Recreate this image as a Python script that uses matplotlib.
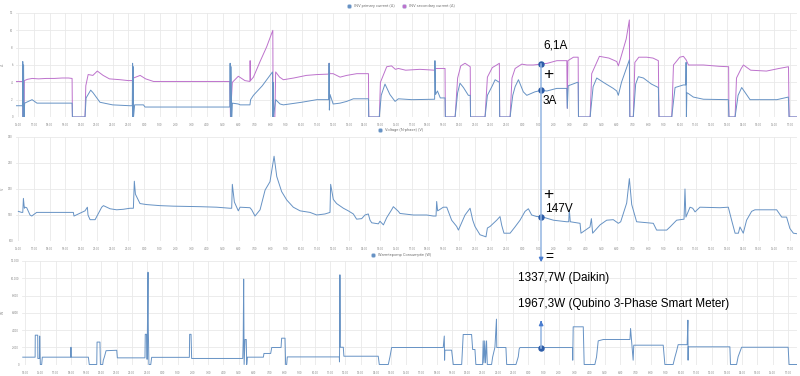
import numpy as np
import matplotlib
matplotlib.use("Agg")
import matplotlib.pyplot as plt
from matplotlib.lines import Line2D
from matplotlib.patches import FancyArrowPatch

plt.rcParams["font.family"] = ["Roboto", "DejaVu Sans"]

# ── Data (time = hours since midnight of day 1) ───────────────────────────
inv1_t = [15.87, 16.28, 16.30, 16.32, 16.35, 16.38, 16.42, 16.89, 17.2, 19.43, 19.45, 20.25, 20.32, 20.61,
          20.76, 21.2, 22.0, 23.1, 23.25, 23.27, 23.29, 23.31, 23.33, 23.4, 23.96, 24.06, 29.44, 29.46,
          29.49, 29.53, 29.56, 29.6, 29.98, 30.1, 30.72, 30.76, 30.94, 31.5, 32.15, 32.17, 32.19, 32.21,
          32.35, 32.63, 32.84, 34.0, 34.96, 35.72, 35.74, 35.76, 35.8, 36.0, 36.44, 36.86, 37.28, 38.24,
          38.26, 38.93, 39.05, 39.29, 39.6, 39.93, 40.14, 41.0, 42.44, 42.46, 42.5, 42.62, 42.8, 43.1,
          43.12, 43.74, 43.9, 44.05, 44.27, 44.58, 44.7, 44.72, 45.64, 45.79, 46.1, 46.28, 46.55, 46.57,
          47.23, 47.4, 47.55, 47.76, 48.07, 48.29, 48.8, 49.2, 49.56, 50.19, 50.83, 50.86, 50.92, 51.5,
          51.55, 51.57, 52.31, 52.5, 52.73, 53.15, 53.78, 54.0, 54.1, 54.3, 54.8, 54.83, 55.05, 55.2,
          55.37, 55.69, 56.2, 56.64, 56.68, 57.49, 57.7, 58.23, 58.38, 58.4, 58.42, 58.45, 58.55, 58.86,
          59.5, 61.08, 61.12, 61.51, 61.7, 61.93, 62.46, 64.16, 64.89, 64.94, 65.44]
inv1_a = [1.3, 1.3, 6.4, 0.0, 6.0, 0.0, 1.6, 2.0, 1.6, 1.6, 0.0, 0.0, 2.2, 3.1,
          2.8, 1.7, 1.4, 1.3, 1.3, 6.2, 0.0, 5.8, 0.0, 1.4, 1.4, 1.15, 1.15, 6.2,
          0.0, 5.8, 0.0, 1.6, 1.5, 1.4, 1.4, 2.0, 2.5, 3.6, 5.2, 0.0, 4.0, 0.0,
          2.0, 1.5, 1.4, 1.7, 2.0, 2.0, 6.2, 0.8, 2.6, 1.5, 1.6, 1.8, 2.1, 2.1,
          0.0, 0.0, 2.5, 3.8, 2.6, 1.8, 2.1, 2.0, 2.05, 6.5, 2.6, 3.0, 2.2, 2.2,
          0.0, 0.0, 2.8, 3.9, 3.4, 2.5, 2.5, 0.0, 0.0, 2.5, 3.6, 4.3, 4.0, 0.0,
          0.0, 2.5, 3.5, 4.3, 2.9, 2.5, 2.9, 3.08, 3.0, 3.3, 3.3, 1.0, 3.6, 4.0,
          4.0, 0.0, 0.0, 3.5, 4.5, 4.0, 3.3, 3.0, 2.5, 4.0, 6.6, 0.0, 0.0, 3.8,
          4.65, 4.5, 3.8, 3.4, 0.0, 0.0, 3.4, 3.7, 3.7, 6.3, 0.0, 2.8, 2.7, 2.3,
          2.05, 2.0, 0.0, 0.0, 2.5, 3.4, 2.0, 2.0, 2.3, 0.0, 0.0]

inv2_t = [15.87, 16.28, 16.30, 16.38, 16.40, 16.6, 16.9, 17.3, 17.8, 18.3, 18.8, 19.2, 19.43, 19.45,
          20.25, 20.30, 20.45, 20.75, 21.03, 21.4, 21.8, 22.5, 23.0, 23.26, 23.28, 23.33, 23.75, 24.1,
          24.6, 26.0, 27.5, 29.44, 29.48, 29.6, 29.98, 30.4, 30.72, 30.73, 30.75, 30.94, 31.36, 31.78,
          32.15, 32.17, 32.19, 32.30, 32.35, 32.6, 32.84, 33.5, 34.3, 35.0, 35.72, 35.75, 35.78, 36.0,
          36.44, 36.86, 37.5, 38.24, 38.26, 38.93, 39.0, 39.4, 39.7, 39.95, 40.14, 40.6, 41.5, 42.45,
          42.47, 43.1, 43.12, 43.74, 43.9, 44.1, 44.37, 44.7, 44.72, 45.64, 45.79, 46.1, 46.38, 46.55,
          46.57, 47.23, 47.35, 47.55, 47.97, 48.3, 48.7, 49.2, 49.6, 50.2, 50.83, 50.86, 50.9, 51.25,
          51.55, 51.57, 52.31, 52.41, 52.9, 53.5, 54.0, 54.1, 54.2, 54.6, 54.8, 54.83, 55.05, 55.15,
          55.4, 55.9, 56.3, 56.64, 56.68, 57.49, 57.6, 58.0, 58.23, 58.4, 58.55, 59.5, 60.5, 61.1,
          61.12, 61.51, 61.6, 61.9, 62.04, 62.5, 63.5, 64.3, 64.9, 64.94, 65.44]
inv2_a = [4.1, 4.1, 0.0, 0.0, 4.2, 4.35, 4.45, 4.4, 4.45, 4.45, 4.5, 4.5, 4.45, 0.0,
          0.0, 3.6, 4.9, 4.8, 5.3, 4.8, 4.4, 4.3, 4.2, 4.2, 0.0, 4.5, 4.8, 4.4,
          4.1, 4.1, 4.1, 4.1, 0.0, 4.0, 4.7, 4.2, 4.1, 6.5, 4.2, 4.6, 6.4, 8.1,
          9.9, 10.0, 0.0, 0.0, 5.2, 4.6, 4.3, 4.5, 4.8, 4.9, 4.95, 6.2, 5.0, 5.0,
          4.6, 4.8, 5.0, 5.0, 0.0, 0.0, 4.0, 5.8, 5.9, 5.5, 5.6, 5.4, 5.5, 5.4,
          5.6, 5.6, 0.0, 0.0, 4.5, 5.9, 6.2, 5.8, 0.0, 0.0, 4.6, 5.7, 6.0, 6.2,
          0.0, 0.0, 4.5, 5.6, 6.1, 6.0, 6.0, 6.1, 6.2, 6.5, 6.5, 1.0, 6.5, 6.9,
          6.9, 0.0, 0.0, 5.0, 7.0, 6.8, 6.4, 5.9, 6.5, 9.0, 11.2, 0.0, 0.0, 6.3,
          6.9, 6.9, 6.8, 6.5, 0.0, 0.0, 6.0, 6.9, 7.0, 6.6, 6.0, 6.0, 5.85, 5.8,
          0.0, 0.0, 4.5, 5.6, 6.0, 5.4, 5.3, 5.6, 5.8, 0.0, 0.0]

volt_t = [16.02, 16.23, 16.30, 16.34, 16.40, 16.44, 16.55, 16.76, 16.87, 17.18, 19.51, 19.55, 20.04,
          20.25, 20.40, 20.44, 20.57, 20.89, 21.31, 21.42, 21.84, 22.26, 22.68, 23.11, 23.32, 23.38,
          23.45, 23.53, 23.74, 24.17, 25.01, 25.86, 27.55, 28.61, 29.45, 29.56, 29.60, 29.67, 29.73,
          29.88, 29.98, 30.09, 30.72, 30.83, 31.04, 31.36, 31.68, 31.99, 32.25, 32.42, 32.73, 33.05,
          33.47, 33.90, 34.53, 34.96, 35.48, 35.80, 35.84, 36.01, 36.22, 36.65, 36.96, 37.28, 37.49,
          37.81, 38.02, 38.23, 38.34, 38.45, 38.87, 38.97, 39.19, 39.40, 39.71, 39.82, 40.14,
          40.24, 41.09, 41.94, 42.36, 42.53, 42.57, 42.63, 42.74, 42.99, 43.21, 43.52, 43.84, 43.95,
          44.05, 44.37, 44.69, 44.86, 45.0, 45.32, 45.70, 45.79, 45.96, 46.38, 46.59, 46.70, 46.84,
          47.23, 47.54, 47.86, 48.18, 48.39, 48.6, 48.92, 49.2, 49.98, 50.82, 50.95, 50.99, 51.05,
          51.67, 51.73, 52.30, 52.39, 52.47, 52.94, 53.36, 53.78, 54.10, 54.25, 54.63, 54.80, 54.95,
          55.26, 56.32, 56.53, 57.17, 57.38, 57.80, 58.27, 58.33, 58.39, 58.65, 58.82, 58.97, 59.28,
          60.55, 61.08, 61.29, 61.51, 61.72, 61.82, 62.03, 62.24, 62.56, 62.77, 64.15, 64.47, 64.78,
          64.99, 65.21, 65.44]
volt_v = [157, 155, 155, 182, 163, 165, 164, 150, 148, 155, 155, 148, 155,
          158, 165, 150, 141, 141, 165, 168, 162, 160, 161, 163, 163, 215,
          190, 185, 172, 170, 168, 167, 166, 165, 163, 163, 209, 190, 175,
          165, 158, 165, 164, 160, 148, 160, 198, 214, 263, 224, 195, 179,
          165, 158, 155, 150, 152, 155, 209, 180, 172, 163, 158, 152, 142,
          143, 150, 152, 140, 135, 133, 138, 131, 145, 160, 166, 157,
          153, 150, 150, 148, 148, 176, 158, 160, 165, 165, 140, 128, 121,
          128, 150, 163, 140, 128, 112, 108, 125, 128, 140, 147, 130, 115,
          115, 127, 140, 157, 162, 150, 147, 147, 140, 137, 137, 160, 137,
          134, 115, 127, 143, 115, 131, 140, 141, 134, 137, 173, 220, 170,
          137, 134, 121, 121, 127, 140, 142, 200, 146, 165, 163, 156, 165,
          164, 165, 140, 115, 115, 127, 115, 140, 157, 160, 160, 146, 146,
          124, 115, 114]

pump_t = [14.85, 15.66, 15.67, 15.83, 15.84, 15.94, 15.96, 16.0, 16.09, 16.13, 18.0, 18.01, 18.02,
          19.15, 19.21, 19.7, 19.72, 19.91, 19.94, 20.09, 20.13, 20.2, 20.31, 21.01, 21.05, 22.86,
          22.88, 22.97, 23.0, 23.06, 23.08, 23.12, 23.24, 23.3, 25.77, 25.79, 25.88, 25.92, 29.27,
          29.3, 29.33, 29.36, 29.42, 29.5, 29.53, 29.57, 30.62, 30.66, 31.1, 31.17, 31.78, 31.82,
          32.04, 32.08, 32.15, 32.19, 35.6, 35.61, 35.63, 35.64, 35.66, 35.86, 35.9, 38.15, 38.22,
          38.81, 38.92, 39.03, 42.41, 42.48, 42.5, 42.52, 42.96, 43.07, 43.62, 43.72, 44.27, 44.34,
          44.49, 44.55, 44.99, 45.03, 45.08, 45.13, 45.18, 45.25, 45.3, 45.58, 45.65, 45.8, 45.9,
          45.92, 46.52, 46.57, 47.18, 47.33, 47.39, 47.44, 50.89, 50.9, 50.93, 51.59, 51.65, 52.35,
          52.46, 52.57, 52.9, 54.65, 54.69, 54.86, 54.9, 56.83, 56.94, 57.48, 57.6, 57.7, 57.81,
          58.4, 58.45, 58.46, 58.47, 61.2, 61.24, 61.64, 61.74, 61.97, 65.02, 65.08, 65.6]
pump_w = [850, 850, 3400, 3400, 700, 700, 3300, 0, 0, 850, 850, 2000, 850,
          850, 0, 0, 2600, 2600, 0, 0, 500, 870, 1600, 1650, 770, 770,
          3500, 3500, 600, 10700, 4000, 0, 0, 830, 830, 3500, 3500, 700, 700,
          2900, 9900, 0, 2900, 2900, 0, 850, 850, 1280, 1280, 1970, 1970, 3050,
          3050, 0, 0, 880, 880, 300, 4250, 10400, 2000, 2000, 960, 960, 0,
          0, 900, 1970, 1970, 3300, 500, 1660, 1660, 0, 0, 3480, 3480, 1740,
          1740, 0, 0, 2740, 200, 2740, 200, 2740, 0, 0, 870, 2000, 5260,
          1970, 1970, 0, 0, 900, 1800, 1967, 1967, 500, 4370, 4370, 0, 0,
          870, 2740, 2900, 2900, 4180, 500, 2240, 2240, 0, 0, 870, 1500, 2300,
          2300, 5140, 500, 2050, 2050, 0, 0, 900, 2000, 2000, 0, 0]

# hover cursor values
cur_t12, cur_t3 = 49.2, 48.81
cur_prim, cur_sec, cur_volt, cur_pump = 3.08, 6.1, 147, 1967.3

# ── Styling ────────────────────────────────────────────────────────────────
W, H = 800, 376
BLUE = "#6692c4"
PURPLE = "#bd72cc"
DOT = "#2c5ca8"
GRID = "#e9e9e9"
TICK = "#8a8a8a"
CURSOR = "#93b5e2"
ARROW = "#4a7dcf"


def frame(left, top, right, bottom):
    return [left / W, 1 - bottom / H, (right - left) / W, (bottom - top) / H]


def style(ax, hours, yticks, ylabels, unit, label_x):
    ax.set_xticks(hours)
    ax.set_xticklabels([f"{h % 24}:00" for h in hours])
    ax.set_yticks(yticks)
    ax.set_yticklabels(ylabels)
    ax.grid(True, color=GRID, lw=0.6)
    ax.set_axisbelow(True)
    for s in ax.spines.values():
        s.set_visible(False)
    ax.tick_params(axis="x", length=0, labelsize=2.1, colors=TICK, pad=4.5)
    ax.tick_params(axis="y", length=0, labelsize=2.1, colors=TICK, pad=2.2)
    ax.set_ylabel(unit, fontsize=2.6, color=TICK)
    ax.yaxis.set_label_coords(label_x, 0.5)


def legend(ax, items, y):
    handles = [Line2D([], [], ls="", marker="o", markersize=3.2, mfc=c, mec="#c9d8ea", mew=0.4,
                      label=l) for l, c in items]
    ax.legend(handles=handles, loc="center", bbox_to_anchor=(0.5, 1 - y / H),
              bbox_transform=fig.transFigure, ncol=len(items), frameon=False,
              fontsize=2.9, handletextpad=0.2, columnspacing=1.2, labelcolor="#777777")


fig = plt.figure(figsize=(8, 3.76), dpi=100)
ax1 = fig.add_axes(frame(16, 13, 797, 117))
ax2 = fig.add_axes(frame(16, 137, 797, 241))
ax3 = fig.add_axes(frame(22, 261, 797, 364.5))

# ── Panel 1: inverter currents ────────────────────────────────────────────
ax1.plot(inv2_t, inv2_a, color=PURPLE, lw=0.7)
ax1.plot(inv1_t, inv1_a, color=BLUE, lw=0.7)
ax1.set_xlim(15.87, 65.44)
ax1.set_ylim(0, 12)
style(ax1, range(16, 66), range(0, 13, 2), [str(v) for v in range(0, 13, 2)], "A", -11 / 781)
legend(ax1, [("INV primary current (A)", BLUE), ("INV secondary current (A)", PURPLE)], 6)

# ── Panel 2: voltage ──────────────────────────────────────────────────────
ax2.plot(volt_t, volt_v, color=BLUE, lw=0.7)
ax2.set_xlim(15.87, 65.44)
ax2.set_ylim(100, 300)
style(ax2, range(16, 66), range(100, 301, 50), [str(v) for v in range(100, 301, 50)], "V", -11 / 781)
legend(ax2, [("Voltage (N-phase) (V)", BLUE)], 130)

# ── Panel 3: heat pump consumption ────────────────────────────────────────
ax3.plot(pump_t, pump_w, color=BLUE, lw=0.7)
ax3.set_xlim(14.8, 65.6)
ax3.set_ylim(0, 12000)
style(ax3, range(15, 66), range(0, 12001, 2000),
      [f"{v:,}".replace(",", ".") for v in range(0, 12001, 2000)], "W", -17 / 775)
legend(ax3, [("Warmtepomp Consumptie (W)", BLUE)], 255)

# ── Hover cursor + hand-drawn sum annotation ─────────────────────────────
to_fig = fig.transFigure.inverted()
p_sec = to_fig.transform(ax1.transData.transform((cur_t12, cur_sec)))
p_pump = to_fig.transform(ax3.transData.transform((cur_t3, cur_pump)))
cx = p_sec[0]

fig.add_artist(Line2D([cx, cx], [p_sec[1], 1 - 258 / H], color=CURSOR, lw=1.1,
                      transform=fig.transFigure, zorder=5))
fig.add_artist(FancyArrowPatch((cx, 1 - 256 / H), (cx, 1 - 265 / H), arrowstyle="-|>",
                               mutation_scale=6, color=ARROW, lw=1.0,
                               transform=fig.transFigure, zorder=6))
fig.add_artist(Line2D([cx, cx], [p_pump[1], 1 - 322 / H], color=CURSOR, lw=1.1,
                      transform=fig.transFigure, zorder=5))
fig.add_artist(FancyArrowPatch((cx, 1 - 325 / H), (cx, 1 - 318 / H), arrowstyle="-|>",
                               mutation_scale=6, color=ARROW, lw=1.0,
                               transform=fig.transFigure, zorder=6))

for ax, t, v in [(ax1, cur_t12, cur_sec), (ax1, cur_t12, cur_prim),
                 (ax2, cur_t12, cur_volt), (ax3, cur_t3, cur_pump)]:
    ax.plot([t], [v], "o", color=DOT, markersize=3.6, zorder=7, clip_on=False)

big = dict(family=["Liberation Sans", "DejaVu Sans"], color="black", va="baseline", ha="left")
fig.text(543 / W, 1 - 48 / H, "6,1A", fontsize=8.5, **big)
fig.text(543 / W, 1 - 104 / H, "3A", fontsize=8.5, **big)
fig.text(545 / W, 1 - 211.5 / H, "147V", fontsize=8.5, **big)
fig.text(518 / W, 1 - 281 / H, "1337,7W (Daikin)", fontsize=8.5, **big)
fig.text(518 / W, 1 - 307 / H, "1967,3W (Qubino 3-Phase Smart Meter)", fontsize=8.5, **big)
sym = dict(family=["Liberation Sans", "DejaVu Sans"], color="black", va="center", ha="center")
fig.text(548.5 / W, 1 - 75 / H, "+", fontsize=12.5, **sym)
fig.text(548.5 / W, 1 - 194.5 / H, "+", fontsize=12.5, **sym)
fig.text(549 / W, 1 - 257.5 / H, "=", fontsize=10, **sym)

fig.savefig("out.png", dpi=100, facecolor="white")
